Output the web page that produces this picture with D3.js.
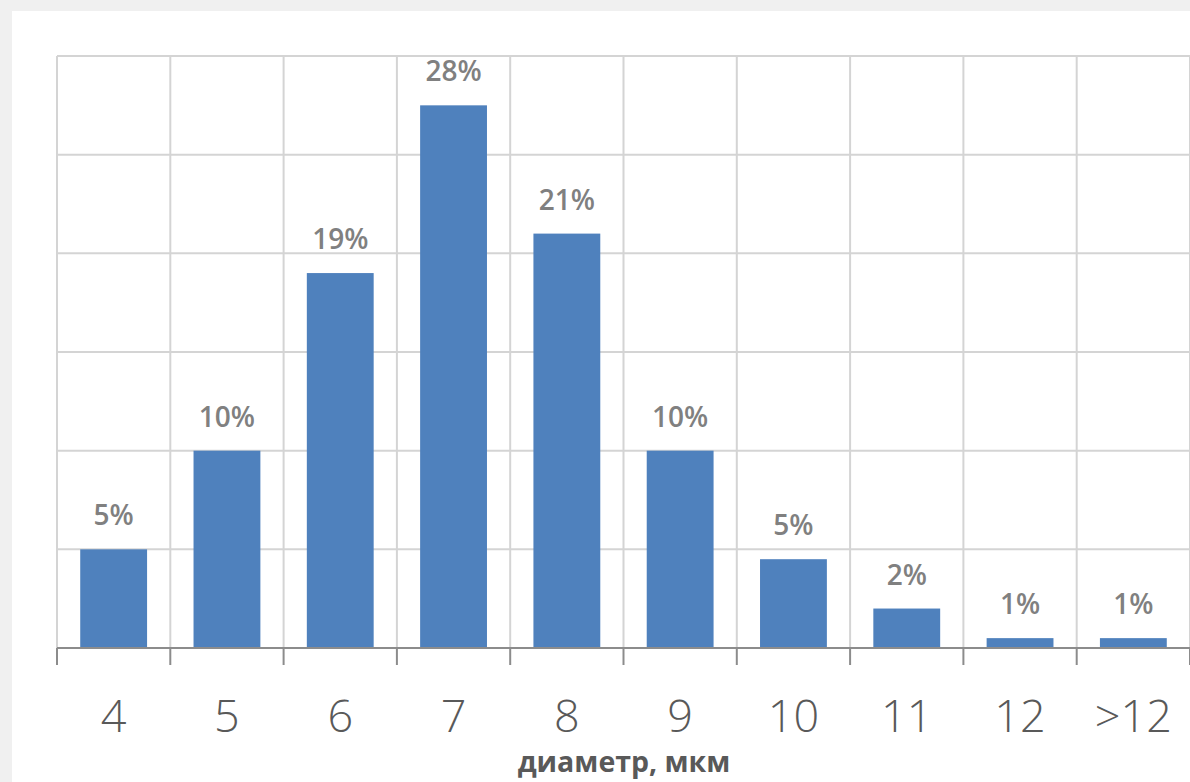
<!DOCTYPE html>
<html>
<head>
<meta charset="utf-8">
<script src="https://cdn.jsdelivr.net/npm/d3@7"></script>
<style>
  html, body { margin: 0; padding: 0; background: #f0f0f0; }
  svg { display: block; }
</style>
</head>
<body>
<svg id="chart" width="1190" height="782"></svg>
<script>
// Particle size distribution: share of particles per diameter class
const categories = ["4", "5", "6", "7", "8", "9", "10", "11", "12", ">12"];
const shares = [5, 10, 19, 27.5, 21, 10, 4.5, 2, 0.5, 0.5];
const yTicks = [0, 5, 10, 15, 20, 25, 30];
const axisTitle = "диаметр, мкм";

const W = 1190, H = 782;
const margin = { top: 56, right: 0, bottom: 134, left: 57 };
const innerW = W - margin.left - margin.right;
const innerH = H - margin.top - margin.bottom;
const font = "'Open Sans', 'Noto Sans', sans-serif";

const svg = d3.select("#chart");

// white chart panel over the grey page
svg.append("rect")
  .attr("x", 12).attr("y", 11)
  .attr("width", W - 12).attr("height", H - 11)
  .attr("fill", "#ffffff");

const g = svg.append("g").attr("transform", `translate(${margin.left},${margin.top})`);

const x = d3.scaleBand().domain(categories).range([0, innerW]).paddingInner(0.41).paddingOuter(0.205);
const xCell = d3.scaleBand().domain(categories).range([0, innerW]);
const y = d3.scaleLinear().domain([0, 30]).range([innerH, 0]);

const gridColor = "#d4d4d4";

// horizontal gridlines
g.append("g")
  .selectAll("line")
  .data(yTicks.filter(t => t > 0))
  .join("line")
  .attr("x1", 0).attr("x2", innerW)
  .attr("y1", d => y(d)).attr("y2", d => y(d))
  .attr("stroke", gridColor).attr("stroke-width", 2);

// vertical gridlines at category boundaries
const bounds = categories.map(c => xCell(c)).concat([innerW]);
g.append("g")
  .selectAll("line")
  .data(bounds)
  .join("line")
  .attr("x1", d => d).attr("x2", d => d)
  .attr("y1", 0).attr("y2", innerH)
  .attr("stroke", gridColor).attr("stroke-width", 2);

// bars
g.append("g")
  .selectAll("rect")
  .data(shares)
  .join("rect")
  .attr("x", (d, i) => x(categories[i]))
  .attr("y", d => y(d))
  .attr("width", x.bandwidth())
  .attr("height", d => innerH - y(d))
  .attr("fill", "#4f81bd");

// value labels
g.append("g")
  .selectAll("text")
  .data(shares)
  .join("text")
  .attr("x", (d, i) => x(categories[i]) + x.bandwidth() / 2)
  .attr("y", d => y(d) - 24)
  .attr("text-anchor", "middle")
  .attr("font-family", font)
  .attr("font-size", 28)
  .attr("font-weight", 600)
  .attr("fill", "#808080")
  .text(d => Math.round(d) + "%");

// x axis with tick marks on category boundaries
const xAxis = g.append("g").attr("transform", `translate(0,${innerH})`);
xAxis.append("line")
  .attr("x1", 0).attr("x2", innerW)
  .attr("y1", 0).attr("y2", 0)
  .attr("stroke", "#8c8c8c").attr("stroke-width", 2);
xAxis.selectAll("line.tick")
  .data(bounds)
  .join("line")
  .attr("class", "tick")
  .attr("x1", d => d).attr("x2", d => d)
  .attr("y1", 0).attr("y2", 17)
  .attr("stroke", "#8c8c8c").attr("stroke-width", 2);
xAxis.selectAll("text")
  .data(categories)
  .join("text")
  .attr("x", d => xCell(d) + xCell.bandwidth() / 2)
  .attr("y", 84)
  .attr("text-anchor", "middle")
  .attr("font-family", font)
  .attr("font-size", 45)
  .attr("font-weight", 300)
  .attr("fill", "#595959")
  .text(d => d);

// axis title
svg.append("text")
  .attr("x", 624)
  .attr("y", 772)
  .attr("text-anchor", "middle")
  .attr("font-family", font)
  .attr("font-weight", "bold")
  .attr("font-size", 28.5)
  .attr("fill", "#595959")
  .text(axisTitle);
</script>
</body>
</html>
